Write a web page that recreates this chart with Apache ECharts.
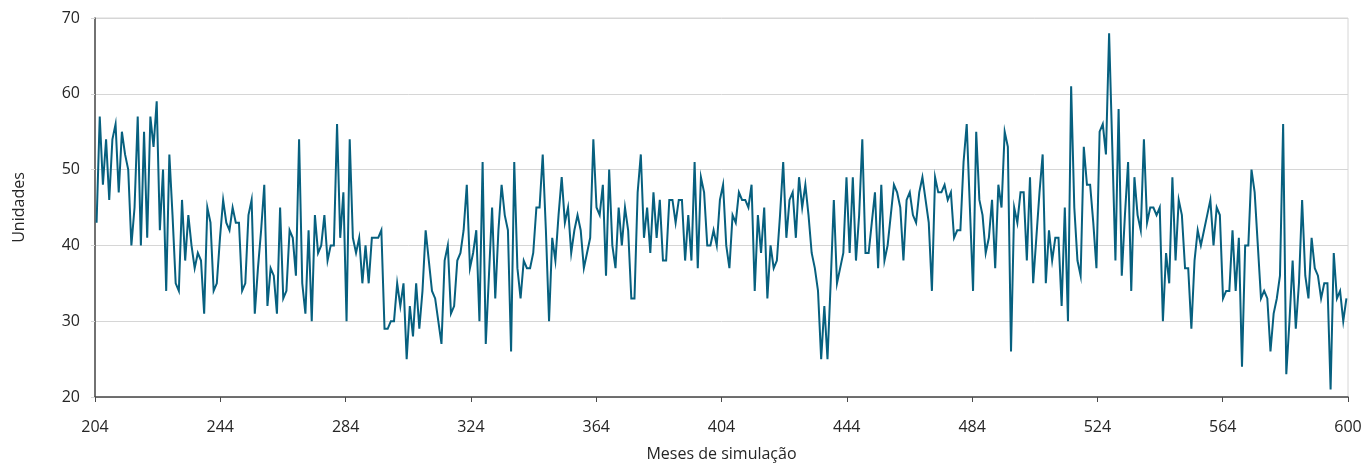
<!DOCTYPE html>
<html>
<head>
<meta charset="utf-8">
<script src="https://cdn.jsdelivr.net/npm/echarts@6/dist/echarts.min.js"></script>
<style>
  html, body { margin: 0; padding: 0; background: #fff; }
  #chart { width: 1366px; height: 464px; }
</style>
</head>
<body>
<div id="chart"></div>
<script>
// Simulated monthly stock level (units), months 205 to 600, in blocks of 40 months
const block1 = [43,57,48,54,46,54,56,47,55,52,50,40,45,57,40,55,41,57,53,59,42,50,34,52,44,35,34,46,38,44,40,37,39,38,31,45,43,34,35,41];
const block2 = [46,43,42,45,43,43,34,35,44,46,31,37,42,48,32,37,36,31,45,33,34,42,41,36,54,35,31,42,30,44,39,40,44,38,40,40,56,41,47,30];
const block3 = [54,41,39,41,35,40,35,41,41,41,42,29,29,30,30,35,32,35,25,32,28,35,29,34,42,38,34,33,30,27,38,40,31,32,38,39,42,48,37,39];
const block4 = [42,30,51,27,36,45,33,42,48,44,42,26,51,37,33,38,37,37,39,45,45,52,42,30,41,38,44,49,43,45,39,42,44,42,37,39,41,54,45,44];
const block5 = [48,36,50,40,37,45,40,45,42,33,33,47,52,41,45,39,47,41,46,38,38,46,46,43,46,46,38,44,38,51,37,49,47,40,40,42,40,46,48,40];
const block6 = [37,44,43,47,46,46,45,48,34,44,39,45,33,40,37,38,44,51,41,46,47,41,49,45,48,44,39,37,34,25,32,25,35,46,35,37,39,49,39,49];
const block7 = [38,44,54,39,39,43,47,37,48,38,40,44,48,47,45,38,46,47,44,43,47,49,46,43,34,49,47,47,48,46,47,41,42,42,51,56,45,34,55,46];
const block8 = [44,39,41,46,37,48,45,55,53,26,45,43,47,47,38,49,35,41,47,52,35,42,38,41,41,32,45,30,61,45,38,36,53,48,48,43,37,55,56,52];
const block9 = [68,53,38,58,36,44,51,34,49,44,42,54,43,45,45,44,45,30,39,35,49,38,46,44,37,37,29,38,42,40,42,44,46,40,45,44,33,34,34,42];
const block10 = [34,41,24,40,40,50,47,40,33,34,33,26,31,33,36,56,23,30,38,29,35,46,36,33,41,37,36,33,35,35,21,39,33,34,30,33];

const units = [].concat(block1, block2, block3, block4, block5, block6, block7, block8, block9, block10);
const firstMonth = 205;
const months = units.map((_, i) => String(firstMonth + i));

// Labels shown along the month axis
const monthTickLabels = ['204','244','284','324','364','404','444','484','524','564','600'];

const textColor = '#262626';
const fontFamily = '"Open Sans", "Noto Sans", sans-serif';

const chart = echarts.init(document.getElementById('chart'), null, { renderer: 'canvas' });
chart.setOption({
  animation: false,
  backgroundColor: '#ffffff',
  grid: {
    left: 95, right: 18, top: 18, bottom: 67,
    outerBoundsMode: 'none',
    containLabel: false,
    show: true, borderColor: '#d6d6d6', borderWidth: 1
  },
  xAxis: [
    {
      type: 'category',
      data: months,
      boundaryGap: true,
      show: false
    },
    {
      type: 'category',
      data: monthTickLabels,
      boundaryGap: false,
      position: 'bottom',
      name: 'Meses de simulação',
      nameLocation: 'middle',
      nameGap: 49,
      nameTextStyle: { color: textColor, fontSize: 16, fontFamily: fontFamily },
      axisLine: { show: true, lineStyle: { color: '#4a4a4a', width: 1.5 } },
      axisTick: { show: true, length: 5, inside: false, lineStyle: { color: '#4a4a4a' } },
      axisLabel: { color: textColor, fontSize: 16, fontFamily: fontFamily, margin: 22, interval: 0 },
      splitLine: { show: false }
    }
  ],
  yAxis: {
    type: 'value',
    min: 20, max: 70, interval: 10,
    name: 'Unidades',
    nameLocation: 'middle',
    nameGap: 68,
    nameRotate: 90,
    nameTextStyle: { color: textColor, fontSize: 16, fontFamily: fontFamily },
    axisLine: { show: true, lineStyle: { color: '#4a4a4a', width: 1.5 } },
    axisTick: { show: true, length: 4, lineStyle: { color: '#d6d6d6' } },
    axisLabel: { color: textColor, fontSize: 16, fontFamily: fontFamily, margin: 15 },
    splitLine: { show: true, lineStyle: { color: '#d6d6d6', width: 1 } }
  },
  series: [{
    type: 'line',
    xAxisIndex: 0,
    data: units,
    showSymbol: false,
    symbol: 'none',
    lineStyle: { color: '#07607f', width: 2, join: 'miter' },
    z: 3
  }]
});
</script>
</body>
</html>
